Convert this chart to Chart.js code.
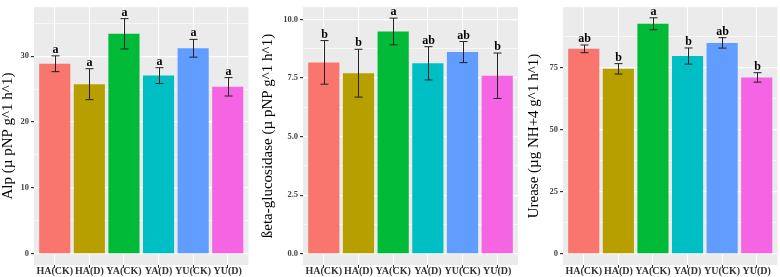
<!DOCTYPE html>
<html>
<head>
<meta charset="utf-8">
<script src="https://cdn.jsdelivr.net/npm/chart.js@4"></script>
<style>
  body { margin: 0; background: #fff; }
  #wrap { position: relative; width: 780px; height: 277px; overflow: hidden; }
  canvas { position: absolute; top: 0; }
</style>
</head>
<body>
<div id="wrap">
  <canvas id="alpChart" width="250" height="277" style="left:0px"></canvas>
  <canvas id="betaChart" width="268" height="277" style="left:252px"></canvas>
  <canvas id="ureaseChart" width="260" height="277" style="left:520px"></canvas>
</div>
<script>
const categories = ['HA(CK)', 'HA(D)', 'YA(CK)', 'YA(D)', 'YU(CK)', 'YU(D)'];
const barColors = ['#F8766D', '#B79F00', '#00BA38', '#00BFC4', '#619CFF', '#F564E3'];

const alpMean = [28.85, 25.75, 33.4, 27.05, 31.2, 25.35];
const alpErr = [1.2, 2.35, 2.3, 1.2, 1.35, 1.4];
const alpLetters = ['a', 'a', 'a', 'a', 'a', 'a'];
const alpTicks = [0, 10, 20, 30];

const betaMean = [8.17, 7.71, 9.49, 8.13, 8.61, 7.60];
const betaErr = [0.93, 1.02, 0.57, 0.71, 0.45, 0.97];
const betaLetters = ['b', 'b', 'a', 'ab', 'ab', 'b'];
const betaTicks = [0, 2.5, 5, 7.5, 10];

const ureaseMean = [82.5, 74.45, 92.6, 79.6, 84.9, 71.0];
const ureaseErr = [1.55, 2.1, 2.4, 3.25, 2.1, 1.9];
const ureaseLetters = ['ab', 'b', 'a', 'b', 'ab', 'b'];
const ureaseTicks = [0, 25, 50, 75];

const serif = '"Liberation Serif", "DejaVu Serif", serif';

// gray panel like ggplot
const panelBg = {
    id: 'panelBg',
    beforeDraw(chart) {
        const a = chart.chartArea;
        const ctx = chart.ctx;
        ctx.save();
        ctx.fillStyle = '#EBEBEB';
        ctx.fillRect(a.left, a.top, a.right - a.left, a.bottom - a.top);
        ctx.restore();
    }
};

// error bars and significance letters
const errorBars = {
    id: 'errorBars',
    afterDatasetsDraw(chart, args, opts) {
        const ctx = chart.ctx;
        const xs = chart.scales.x, ys = chart.scales.y;
        ctx.save();
        opts.mean.forEach((m, i) => {
            const x = Math.round(xs.getPixelForValue(i + 1)) + 0.5;
            const lo = ys.getPixelForValue(m - opts.err[i]);
            const hi = ys.getPixelForValue(m + opts.err[i]);
            ctx.strokeStyle = '#222';
            ctx.lineWidth = 1;
            ctx.beginPath();
            ctx.moveTo(x, lo); ctx.lineTo(x, hi);
            ctx.moveTo(x - 4, lo); ctx.lineTo(x + 4, lo);
            ctx.moveTo(x - 4, hi); ctx.lineTo(x + 4, hi);
            ctx.stroke();
            ctx.fillStyle = '#000';
            ctx.font = 'bold 12px ' + serif;
            ctx.textAlign = 'center';
            ctx.textBaseline = 'alphabetic';
            ctx.fillText(opts.letters[i], x, hi - 3);
        });
        ctx.restore();
    }
};

function makeChart(id, mean, err, letters, ticks, yMin, yMax, title, decimals, yWidth, padRight, titlePad) {
    const minor = ticks.map(t => t + (ticks[1] - ticks[0]) / 2);
    const allTicks = ticks.concat(minor).sort((a, b) => a - b);
    const isMajor = v => ticks.includes(v);

    new Chart(document.getElementById(id), {
        type: 'bar',
        data: {
            datasets: [{
                data: mean.map((v, i) => ({ x: i + 1, y: v })),
                backgroundColor: barColors,
                borderWidth: 0,
                barPercentage: 0.9,
                categoryPercentage: 1
            }]
        },
        options: {
            responsive: false,
            animation: false,
            layout: { padding: { left: 0, right: padRight, top: 0, bottom: 0 } },
            plugins: {
                legend: { display: false },
                tooltip: { enabled: false },
                errorBars: { mean: mean, err: err, letters: letters }
            },
            scales: {
                x: {
                    type: 'linear',
                    min: 0.4,
                    max: 6.6,
                    offset: false,
                    afterBuildTicks: s => { s.ticks = categories.map((c, i) => ({ value: i + 1 })); },
                    afterFit: s => { s.height = 12; },
                    border: { display: false },
                    grid: { offset: false, color: '#FFFFFF', lineWidth: 1, tickColor: '#333', tickLength: 3 },
                    ticks: {
                        autoSkip: false,
                        maxRotation: 0,
                        minRotation: 0,
                        padding: -3,
                        color: '#333',
                        font: { family: serif, size: 10, weight: 'bold' },
                        callback: v => categories[Math.round(v) - 1]
                    }
                },
                y: {
                    min: yMin,
                    max: yMax,
                    afterBuildTicks: s => { s.ticks = allTicks.map(v => ({ value: v })); },
                    afterFit: s => { s.width = yWidth; },
                    border: { display: false },
                    grid: {
                        color: '#FFFFFF',
                        lineWidth: c => (c.tick && isMajor(c.tick.value)) ? 1.2 : 0.6,
                        tickColor: c => (c.tick && isMajor(c.tick.value)) ? '#333' : 'rgba(0,0,0,0)',
                        tickLength: 3
                    },
                    ticks: {
                        padding: 2,
                        color: '#444',
                        font: { family: serif, size: 8.5, weight: 'bold' },
                        callback: v => isMajor(v) ? v.toFixed(decimals) : ''
                    },
                    title: {
                        display: true,
                        text: title,
                        color: '#000',
                        padding: { top: titlePad, bottom: 0 },
                        font: { family: serif, size: 15, lineHeight: 1 }
                    }
                }
            }
        },
        plugins: [panelBg, errorBars]
    });
}

makeChart('alpChart', alpMean, alpErr, alpLetters, alpTicks, -1.7, 37.45,
    'Alp (µ pNP g^1 h^1)', 0, 34, 1.5, 1);
makeChart('betaChart', betaMean, betaErr, betaLetters, betaTicks, -0.478, 10.53,
    'ßeta-glucosidase (µ pNP g^1 h^1)', 1, 51, 2, 9);
makeChart('ureaseChart', ureaseMean, ureaseErr, ureaseLetters, ureaseTicks, -4.5, 99.3,
    'Urease (µg NH+4 g^1 h^1)', 0, 43, 2.5, 6.5);
</script>
</body>
</html>
